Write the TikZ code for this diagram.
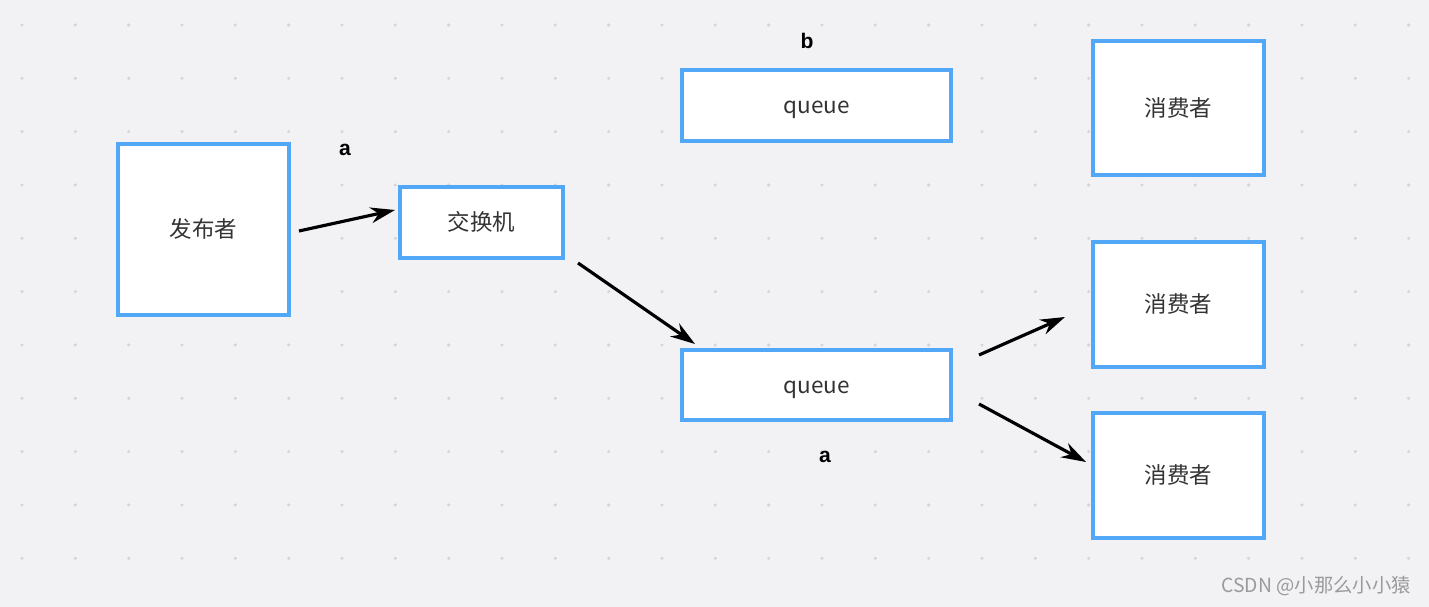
\documentclass[tikz,border=0pt]{standalone}
\usepackage{fontspec}
\setmainfont{Noto Sans CJK SC}
\newfontfamily\tagfont{Liberation Sans}
\usetikzlibrary{arrows.meta}
\definecolor{boxblue}{HTML}{52A7F7}
\definecolor{paper}{HTML}{F2F2F5}
\definecolor{dotgray}{HTML}{D3D3D8}
\definecolor{textgray}{HTML}{333333}
\definecolor{markgray}{HTML}{9A9A9A}

\begin{document}
\begin{tikzpicture}[x=0.02cm,y=-0.02cm,
	box/.style={draw=boxblue, line width=1.9pt, fill=white, text=textgray, inner sep=0pt, text height=1em, text depth=0.05em, font=\fontsize{12.8}{14}\selectfont},
	flow/.style={line width=1.8pt, -{Stealth[length=14pt,width=9pt]}},
	tag/.style={font=\tagfont\bfseries\fontsize{12}{14}\selectfont}]
		\fill[paper] (0,0) rectangle (1429,607);
		\useasboundingbox (0,0) rectangle (1429,607);
		\foreach \i in {0,...,26} {
			\foreach \j in {0,...,10} {
				\fill[dotgray] (22+53.33*\i,25+53.33*\j) circle (0.95pt);
			}
		}
		% boxes
		\node[box, minimum width=3.42cm, minimum height=3.42cm] (pub) at (203.5,229.5) {发布者};
		\node[box, minimum width=3.26cm, minimum height=1.42cm] (exch) at (481.5,222.5) {交换机};
		\node[box, minimum width=5.38cm, minimum height=1.42cm] (qb) at (816.5,105.5) {queue};
		\node[box, minimum width=5.38cm, minimum height=1.40cm] (qa) at (816.5,385) {queue};
		\node[box, minimum width=3.42cm, minimum height=2.68cm] (cons1) at (1178.5,108) {消费者};
		\node[box, minimum width=3.42cm, minimum height=2.50cm] (cons2) at (1178.5,304.5) {消费者};
		\node[box, minimum width=3.42cm, minimum height=2.50cm] (cons3) at (1178.5,475.5) {消费者};
		% routing keys
		\node[tag] (keya) at (345,150) {a};
		\node[tag] (keyb) at (807,41) {b};
		\node[tag] (keyqa) at (825,457) {a};
		% arrows
		\coordinate (pubout) at (299,231);
		\coordinate (exchin) at (395,210);
		\coordinate (exchout) at (578,263);
		\coordinate (qain) at (695,344);
		\coordinate (qaup) at (979,355);
		\coordinate (cons2in) at (1065,317);
		\coordinate (qadown) at (979,404);
		\coordinate (cons3in) at (1086,462);
		\draw[flow] (pubout) -- (exchin);
		\draw[flow] (exchout) -- (qain);
		\draw[flow] (qaup) -- (cons2in);
		\draw[flow] (qadown) -- (cons3in);
		\node[anchor=east, text=markgray, font=\fontsize{11}{13}\selectfont] (mark) at (1417,586) {CSDN @小那么小小猿};
\end{tikzpicture}
\end{document}
